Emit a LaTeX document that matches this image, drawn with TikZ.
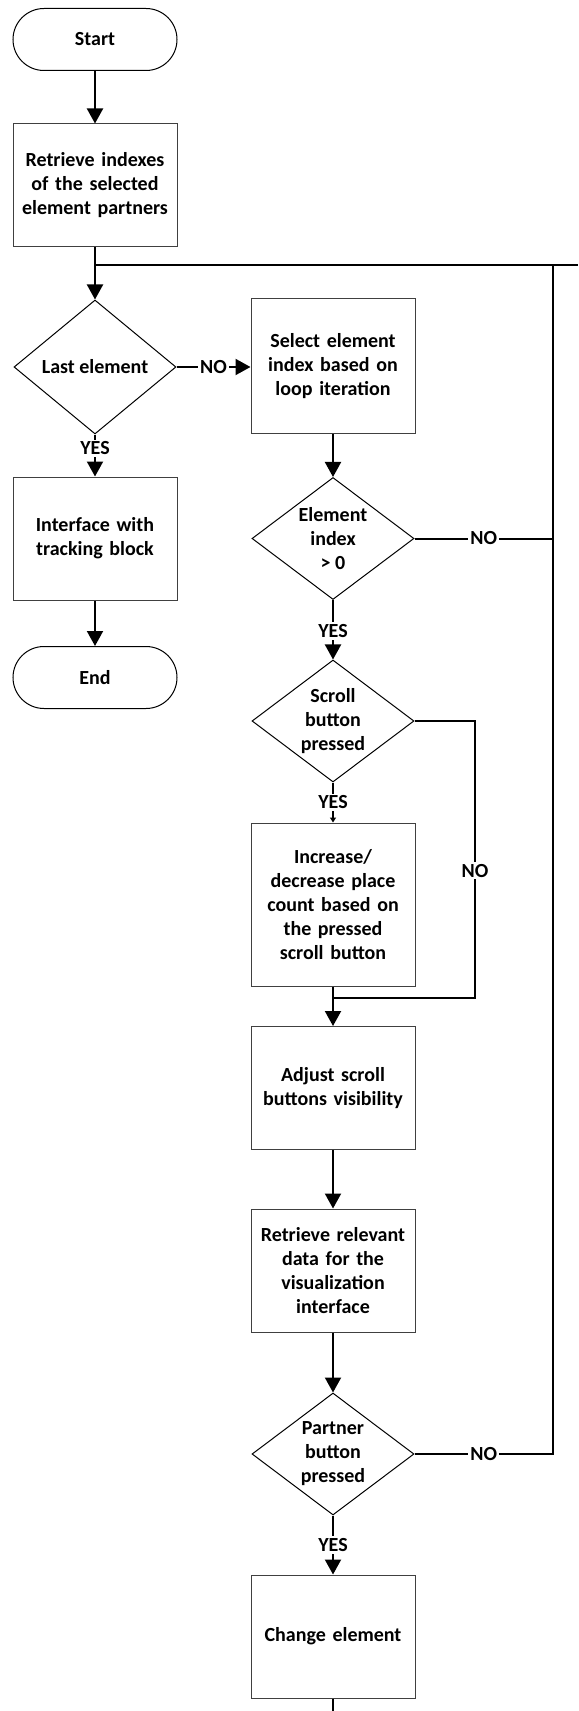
\documentclass[tikz,border=0pt]{standalone}
\usepackage{fontspec}
\setmainfont{Carlito}
\usepackage{tikz}
\usetikzlibrary{positioning,shapes.geometric,arrows.meta}

\begin{document}
\begin{tikzpicture}[x=0.5pt, y=-0.5pt,
    font=\fontsize{10}{12}\selectfont\bfseries,
    term/.style={draw, line width=0.5pt, rounded corners=15.5pt, minimum width=82pt, minimum height=31pt},
    proc/.style={draw=black!75, line width=0.5pt, minimum width=82pt, minimum height=61.5pt, text width=78pt, align=center, inner sep=0pt},
    cond/.style={draw, diamond, aspect=1.33, line width=0.5pt, minimum width=81pt, minimum height=61pt, align=center, inner sep=0pt},
    flow/.style={line width=1pt, -{Triangle[length=7.5pt,width=8pt]}},
    tinyflow/.style={line width=1pt, -{Triangle[length=2.5pt,width=3pt]}},
    link/.style={line width=1pt},
    lbl/.style={fill=white, inner sep=1pt}]
    \useasboundingbox (0,0) rectangle (578,1711);
    % Nodes
    \node[term] (start) at (95,39.5) {Start};
    \node[proc] (retr) at (95,185.5) {Retrieve indexes\\of the selected\\element partners};
    \node[cond, minimum height=67pt] (last) at (95,367) {Last element};
    \node[proc] (iface) at (95,538.5) {Interface with\\tracking block};
    \node[term] (finish) at (95,677.5) {End};
    \node[proc, minimum height=67.5pt] (sel) at (333,366.5) {Select element\\index based on\\loop iteration};
    \node[cond] (idx) at (333,538.5) {Element\\index\\> 0};
    \node[cond] (scr) at (333,721) {Scroll\\button\\pressed};
    \node[proc, minimum height=81.5pt] (inc) at (333,904.5) {Increase/\\decrease place\\count based on\\the pressed\\scroll button};
    \node[proc] (adj) at (333,1088) {Adjust scroll\\buttons visibility};
    \node[proc] (rel) at (333,1270.5) {Retrieve relevant\\data for the\\visualization\\interface};
    \node[cond] (prt) at (333,1454) {Partner\\button\\pressed};
    \node[proc] (chg) at (333,1636.5) {Change element};
    % Loop points
    \coordinate (split) at (95,265);
    \coordinate (edge) at (578,265);
    \coordinate (back) at (553,265);
    \coordinate (mrg) at (475,998);
    \coordinate (exit) at (333,1711);
    % Arrows
    \draw[flow] (start) -- (retr);
    \draw[flow] (retr) -- (last);
    \draw[link] (split) -- (edge);
    \draw[flow] (last.east) -- node[lbl] {NO} (last.east -| sel.west);
    \draw[flow] (last) -- node[lbl, pos=0.33] {YES} (iface);
    \draw[flow] (iface) -- (finish);
    \draw[flow] (sel) -- (idx);
    \draw[link] (idx) -- node[lbl] {NO} (idx -| back);
    \draw[flow] (idx) -- node[lbl, pos=0.52] {YES} (scr);
    \draw[tinyflow] (scr) -- node[lbl] {YES} (inc);
    \draw[link] (scr) -| node[lbl, pos=0.77] {NO} (mrg) -- (mrg -| inc.south);
    \draw[flow] (inc) -- (adj);
    \draw[flow] (adj) -- (rel);
    \draw[flow] (rel) -- (prt);
    \draw[link] (prt) -- node[lbl] {NO} (prt -| back) -- (back);
    \draw[flow] (prt) -- node[lbl] {YES} (chg);
    \draw[link] (chg) -- (exit);
\end{tikzpicture}
\end{document}
